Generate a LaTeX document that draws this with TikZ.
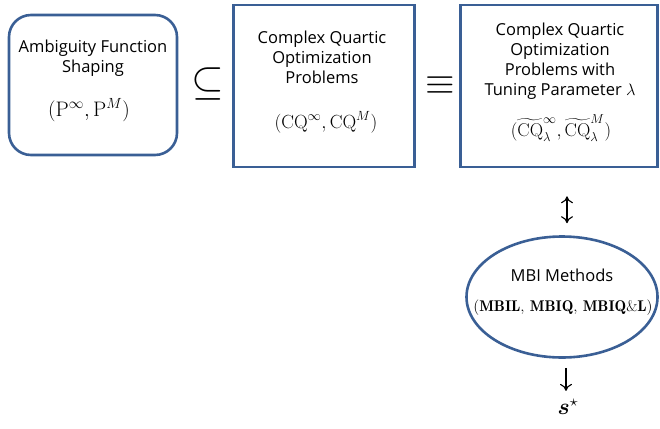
\RequirePackage{fix-cm}
\documentclass[tikz,border=0pt]{standalone}
\usepackage{amsmath,bm}
\usepackage{fontspec}
\newfontfamily\comic{Open Sans}
\usetikzlibrary{arrows.meta,shapes.geometric}
\definecolor{bord}{HTML}{3A5F95}
\tikzset{
  box/.style={draw=bord, line width=2.6pt, inner sep=0pt},
  lbl/.style={font=\comic\fontsize{16.5}{20}\selectfont, align=center, inner sep=0pt},
  frm/.style={font=\fontsize{19}{22}\selectfont, inner sep=0pt},
  rel/.style={font=\fontsize{40}{44}\selectfont, inner sep=0pt},
  conn/.style={line width=1.1pt, {Computer Modern Rightarrow[length=7pt,width=12pt]}-{Computer Modern Rightarrow[length=7pt,width=12pt]}},
  conn1/.style={line width=1.1pt, -{Computer Modern Rightarrow[length=7pt,width=12pt]}}
}
\begin{document}
\begin{tikzpicture}[x=1pt,y=-1pt]
\useasboundingbox (0,0) rectangle (660,428);
% boxes
\node[box, rounded corners=22pt, minimum width=168pt, minimum height=140pt] (b1) at (93,85) {};
\node[box, minimum width=181pt, minimum height=162pt] (b2) at (324,86) {};
\node[box, minimum width=197pt, minimum height=162pt] (b3) at (559,86) {};
\node[box, ellipse, minimum width=191pt, minimum height=121pt] (mbi) at (562,297) {};
% texts
\node[lbl] (t1) at (93,58) {Ambiguity Function\\Shaping};
\node[frm, font=\fontsize{21}{24}\selectfont] (f1) at (89,110) {$(\mathrm{P}^{\infty},\mathrm{P}^{M})$};
\node[lbl] (t2) at (322,57) {Complex Quartic\\Optimization\\Problems};
\node[frm] (f2) at (326,122) {$(\mathrm{CQ}^{\infty},\mathrm{CQ}^{M})$};
\node[lbl] (t3) at (560,61) {Complex Quartic\\Optimization\\Problems with\\Tuning Parameter $\lambda$};
\node[frm, font=\fontsize{18.5}{22}\selectfont] (f3) at (561,128) {$(\widetilde{\mathrm{CQ}}_{\lambda}^{\infty},\widetilde{\mathrm{CQ}}_{\lambda}^{M})$};
\node[lbl] (t4) at (562,275) {MBI Methods};
\node[frm, font=\fontsize{15.5}{18}\selectfont] (f4) at (563,308) {$(\mathbf{MBIL},\,\mathbf{MBIQ},\,\mathbf{MBIQ\&L})$};
% relations
\node[rel, font=\fontsize{42}{44}\selectfont] (sub) at (208,84) {$\subseteq$};
\node[rel, font=\fontsize{38}{40}\selectfont] (eqv) at (440,86) {$\equiv$};
% output
\node[frm, font=\fontsize{23}{26}\selectfont] (sstar) at (568,407) {$\bm{s}^{\star}$};
% connectors
\draw[conn, shorten <=28pt, shorten >=12pt] ([xshift=8pt]b3.south) -- ([xshift=5pt]mbi.north);
\draw[conn1, shorten <=9pt, shorten >=8pt] ([xshift=4pt]mbi.south) -- ([xshift=-2pt]sstar.north);
\end{tikzpicture}
\end{document}
